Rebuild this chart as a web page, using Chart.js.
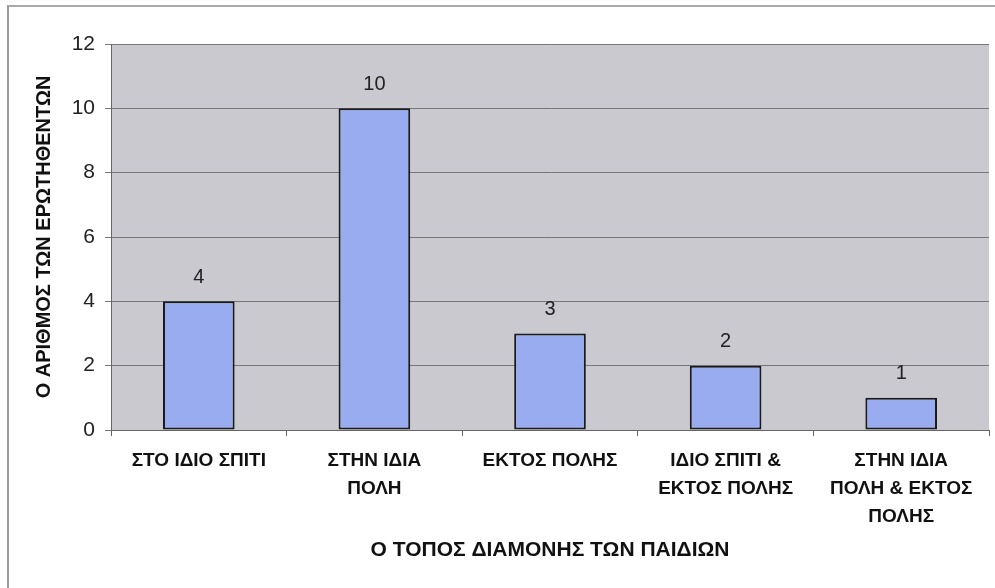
<!DOCTYPE html>
<html>
<head>
<meta charset="utf-8">
<script src="https://cdn.jsdelivr.net/npm/chart.js@4.4.1/dist/chart.umd.min.js"></script>
<style>
    html, body { margin: 0; padding: 0; background: #fff; }
    #wrap { position: relative; width: 995px; height: 588px; }
    #frame { position: absolute; left: 7px; top: 5px; right: 0; bottom: 0; border-left: 2px solid #999; border-top: 2px solid #aaa; }
</style>
</head>
<body>
<div id="wrap">
    <div id="frame"></div>
    <canvas id="chart" width="995" height="588"></canvas>
</div>
<script>
    // Chart data.
    const categories = [
        ['ΣΤΟ ΙΔΙΟ ΣΠΙΤΙ'],
        ['ΣΤΗΝ ΙΔΙΑ', 'ΠΟΛΗ'],
        ['ΕΚΤΟΣ ΠΟΛΗΣ'],
        ['ΙΔΙΟ ΣΠΙΤΙ &', 'ΕΚΤΟΣ ΠΟΛΗΣ'],
        ['ΣΤΗΝ ΙΔΙΑ', 'ΠΟΛΗ & ΕΚΤΟΣ', 'ΠΟΛΗΣ']
    ];
    const respondents = [4, 10, 3, 2, 1];
    const yTicks = [0, 2, 4, 6, 8, 10, 12];

    const yTitle = 'Ο ΑΡΙΘΜΟΣ ΤΩΝ ΕΡΩΤΗΘΕΝΤΩΝ';
    const xTitle = 'Ο ΤΟΠΟΣ ΔΙΑΜΟΝΗΣ ΤΩΝ ΠΑΙΔΙΩΝ';

    const sansFamily = "'Liberation Sans', Arial, sans-serif";

    // Gray plot background, drawn under the grid.
    const plotBackground = {
        id: 'plotBackground',
        beforeDraw(chart) {
            const {ctx, chartArea} = chart;
            ctx.save();
            ctx.fillStyle = '#c9c9cf';
            ctx.fillRect(chartArea.left, chartArea.top, chartArea.right - chartArea.left, chartArea.bottom - chartArea.top);
            ctx.restore();
        }
    };

    // Value labels above each bar.
    const valueLabels = {
        id: 'valueLabels',
        afterDatasetsDraw(chart) {
            const {ctx} = chart;
            const meta = chart.getDatasetMeta(0);
            ctx.save();
            ctx.font = '20px ' + sansFamily;
            ctx.fillStyle = '#222';
            ctx.textAlign = 'center';
            ctx.textBaseline = 'middle';
            meta.data.forEach((bar, i) => {
                ctx.fillText(String(respondents[i]), bar.x, bar.y - 24);
            });
            ctx.restore();
        }
    };

    new Chart(document.getElementById('chart'), {
        type: 'bar',
        data: {
            labels: categories,
            datasets: [{
                data: respondents,
                backgroundColor: '#98acef',
                borderColor: '#1a1a1a',
                borderWidth: 2,
                borderSkipped: false,
                categoryPercentage: 0.8,
                barPercentage: 0.51
            }]
        },
        options: {
            responsive: false,
            animation: false,
            layout: { padding: { top: 44, right: 6, left: 0, bottom: 0 } },
            plugins: {
                legend: { display: false },
                tooltip: { enabled: false }
            },
            scales: {
                x: {
                    afterFit(scale) { scale.height = 158; },
                    grid: {
                        display: true,
                        offset: true,
                        drawOnChartArea: false,
                        color: '#666',
                        tickLength: 6
                    },
                    border: { color: '#666', width: 1 },
                    ticks: {
                        color: '#111',
                        padding: 11,
                        maxRotation: 0,
                        autoSkip: false,
                        font: { family: sansFamily, size: 19, weight: 'bold', lineHeight: 1.47 }
                    },
                    title: {
                        display: true,
                        text: xTitle,
                        color: '#111',
                        font: { family: sansFamily, size: 21, weight: 'bold' },
                        padding: { top: 0, bottom: 25 }
                    }
                },
                y: {
                    min: 0,
                    max: 12,
                    afterFit(scale) { scale.width = 111; },
                    afterBuildTicks(scale) { scale.ticks = yTicks.map(v => ({value: v})); },
                    grid: {
                        color: '#777',
                        lineWidth: 1,
                        tickLength: 6
                    },
                    border: { color: '#666', width: 1 },
                    ticks: {
                        color: '#222',
                        padding: 10,
                        font: { family: sansFamily, size: 21 }
                    },
                    title: {
                        display: true,
                        text: yTitle,
                        color: '#111',
                        font: { family: sansFamily, size: 20, weight: 'bold' },
                        padding: { top: 32, bottom: 0 }
                    }
                }
            }
        },
        plugins: [plotBackground, valueLabels]
    });
</script>
</body>
</html>
